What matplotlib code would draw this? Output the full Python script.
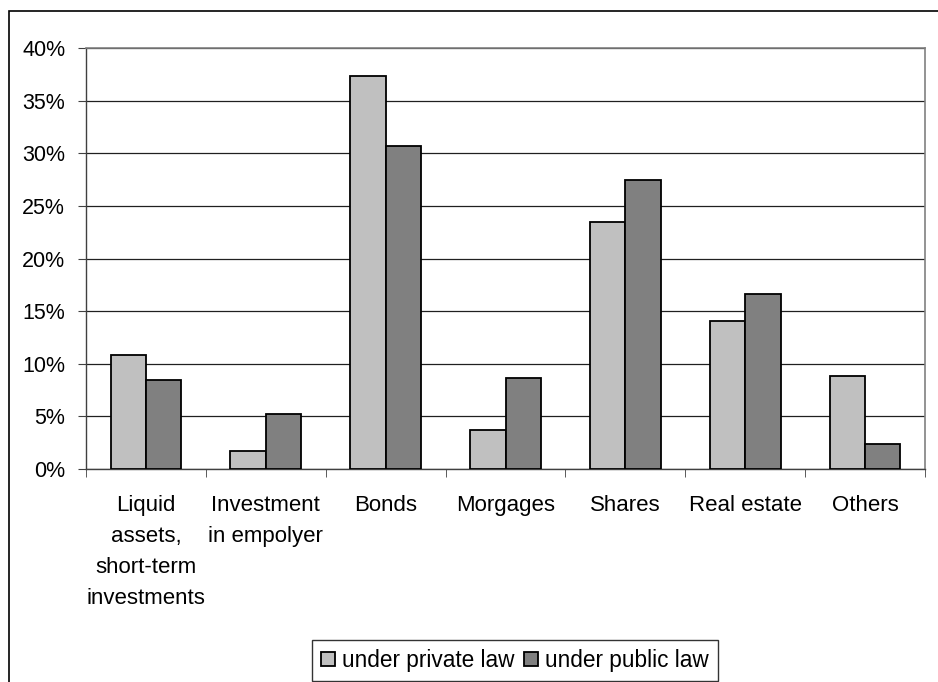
import matplotlib.pyplot as plt
import numpy as np
from matplotlib.patches import Rectangle
from matplotlib.ticker import PercentFormatter

plt.rcParams['font.family'] = ['Liberation Sans', 'DejaVu Sans']

categories = ["Liquid\nassets,\nshort-term\ninvestments", "Investment\nin empolyer", "Bonds",
              "Morgages", "Shares", "Real estate", "Others"]
private_law = [10.85, 1.7, 37.3, 3.7, 23.5, 14.1, 8.8]
public_law = [8.45, 5.25, 30.7, 8.65, 27.5, 16.65, 2.35]

fig = plt.figure(figsize=(9.38, 6.82), dpi=100)
ax = fig.add_axes([0.0917, 0.3123, 0.8945, 0.6173])

x = np.arange(len(categories))
w = 0.295
ax.bar(x - w / 2, private_law, w, color='#C0C0C0', edgecolor='black', linewidth=1.3,
       label='under private law', zorder=3)
ax.bar(x + w / 2, public_law, w, color='#808080', edgecolor='black', linewidth=1.3,
       label='under public law', zorder=3)

ax.set_xlim(-0.5, len(categories) - 0.5)
ax.set_ylim(0, 40)
ax.set_yticks(np.arange(0, 41, 5))
ax.yaxis.set_major_formatter(PercentFormatter(decimals=0))
ax.yaxis.grid(True, color='#202020', linewidth=0.9, zorder=0)

# category labels between boundary ticks
ax.set_xticks(x)
ax.set_xticklabels(categories, linespacing=1.62, va='top')
ax.tick_params(axis='x', length=0, pad=19, labelsize=16)
ax.set_xticks(np.arange(-0.5, len(categories)), minor=True)
ax.tick_params(axis='x', which='minor', length=6, direction='out', color='#404040')
ax.tick_params(axis='y', length=6, direction='out', pad=9, labelsize=15.5, color='#404040')

for s in ['top', 'right']:
    ax.spines[s].set_color('#808080')
    ax.spines[s].set_linewidth(1.2)
for s in ['left', 'bottom']:
    ax.spines[s].set_color('#404040')
    ax.spines[s].set_linewidth(1.0)

leg = fig.legend(loc='upper center', bbox_to_anchor=(0.549, (682 - 640) / 682), borderaxespad=0,
                 ncol=2, fontsize=16.3, handlelength=0.6, handleheight=0.6, handletextpad=0.3,
                 columnspacing=0.45, borderpad=0.4, frameon=True, fancybox=False,
                 edgecolor='black')
leg.get_frame().set_linewidth(1.0)

# chart area border (cropped at right and bottom)
fig.patches.append(Rectangle((9 / 938, -0.2), 1.2, 1.2 - 11 / 682, transform=fig.transFigure,
                             fill=False, edgecolor='black', linewidth=1.2))

fig.savefig('out.png', dpi=100)
plt.close(fig)
